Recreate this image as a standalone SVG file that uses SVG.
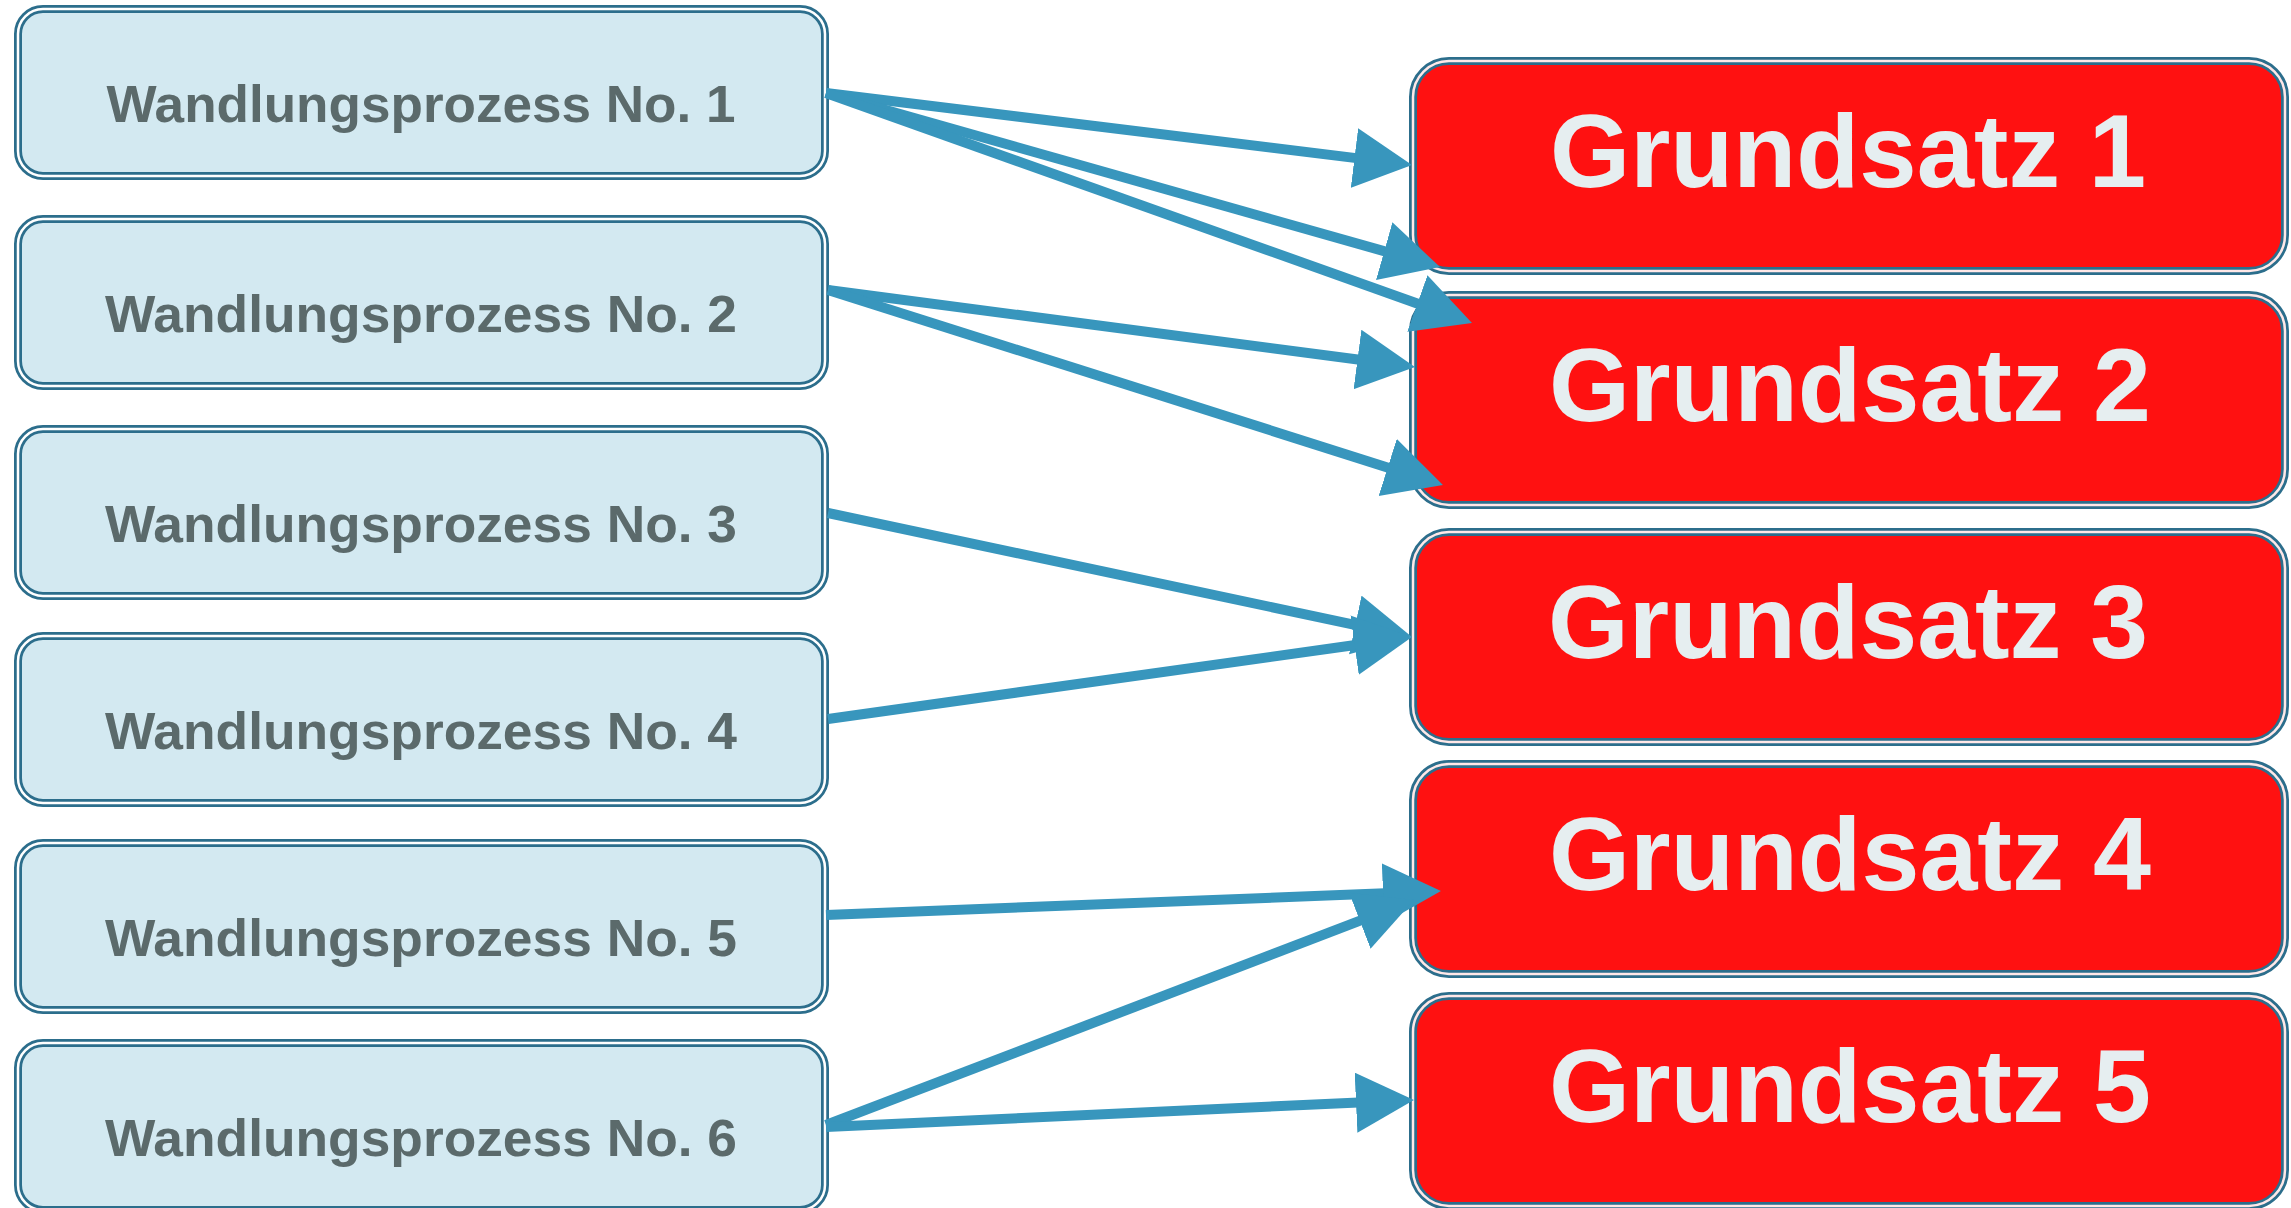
<svg xmlns="http://www.w3.org/2000/svg" width="2291" height="1208" viewBox="0 0 2291 1208">
<style>
.lb{fill:#d3e9f1;stroke:#2c6e8c;stroke-width:8}
.rb{fill:#ff1111;stroke:#2c6e8c;stroke-width:8}
.gap{fill:none;stroke:#ffffff;stroke-width:2.5}
.rgap{fill:none;stroke:#ffe8e8;stroke-width:2.5}
.lt{font-family:"Liberation Sans",Arial,sans-serif;font-weight:bold;font-size:52px;fill:#5b6a6b;text-anchor:middle}
.rt{font-family:"Liberation Sans",Arial,sans-serif;font-weight:bold;font-size:103px;fill:#e6eef0;text-anchor:middle}
.c{stroke:#3896bd;stroke-width:10;fill:none;marker-end:url(#ah)}
</style>
<defs>
<marker id="ah" markerUnits="userSpaceOnUse" markerWidth="60" markerHeight="62" refX="8" refY="30" orient="auto" viewBox="0 0 60 62">
<path d="M0,0 L58,30 L0,60 z" fill="#3896bd"/>
</marker>
</defs>
<rect width="2291" height="1208" fill="#ffffff"/>
<g id="w1"><rect class="lb" x="18" y="9" width="807" height="167" rx="25"/><rect class="gap" x="18" y="9" width="807" height="167" rx="25"/><text class="lt" x="421" y="122" textLength="629" lengthAdjust="spacingAndGlyphs">Wandlungsprozess No. 1</text></g>
<g id="w2"><rect class="lb" x="18" y="219" width="807" height="167" rx="25"/><rect class="gap" x="18" y="219" width="807" height="167" rx="25"/><text class="lt" x="421" y="332" textLength="632" lengthAdjust="spacingAndGlyphs">Wandlungsprozess No. 2</text></g>
<g id="w3"><rect class="lb" x="18" y="429" width="807" height="167" rx="25"/><rect class="gap" x="18" y="429" width="807" height="167" rx="25"/><text class="lt" x="421" y="542" textLength="632" lengthAdjust="spacingAndGlyphs">Wandlungsprozess No. 3</text></g>
<g id="w4"><rect class="lb" x="18" y="636" width="807" height="167" rx="25"/><rect class="gap" x="18" y="636" width="807" height="167" rx="25"/><text class="lt" x="421" y="749" textLength="632" lengthAdjust="spacingAndGlyphs">Wandlungsprozess No. 4</text></g>
<g id="w5"><rect class="lb" x="18" y="843" width="807" height="167" rx="25"/><rect class="gap" x="18" y="843" width="807" height="167" rx="25"/><text class="lt" x="421" y="956" textLength="632" lengthAdjust="spacingAndGlyphs">Wandlungsprozess No. 5</text></g>
<g id="w6"><rect class="lb" x="18" y="1043" width="807" height="167" rx="25"/><rect class="gap" x="18" y="1043" width="807" height="167" rx="25"/><text class="lt" x="421" y="1156" textLength="632" lengthAdjust="spacingAndGlyphs">Wandlungsprozess No. 6</text></g>
<g id="g1"><rect class="rb" x="1413" y="61" width="872" height="210" rx="36"/><rect class="rgap" x="1413" y="61" width="872" height="210" rx="36"/><text class="rt" x="1848" y="187" textLength="596" lengthAdjust="spacingAndGlyphs">Grundsatz 1</text></g>
<g id="g2"><rect class="rb" x="1413" y="295" width="872" height="210" rx="36"/><rect class="rgap" x="1413" y="295" width="872" height="210" rx="36"/><text class="rt" x="1850" y="421" textLength="602" lengthAdjust="spacingAndGlyphs">Grundsatz 2</text></g>
<g id="g3"><rect class="rb" x="1413" y="532" width="872" height="210" rx="36"/><rect class="rgap" x="1413" y="532" width="872" height="210" rx="36"/><text class="rt" x="1848" y="658" textLength="600" lengthAdjust="spacingAndGlyphs">Grundsatz 3</text></g>
<g id="g4"><rect class="rb" x="1413" y="764" width="872" height="210" rx="36"/><rect class="rgap" x="1413" y="764" width="872" height="210" rx="36"/><text class="rt" x="1850" y="890" textLength="602" lengthAdjust="spacingAndGlyphs">Grundsatz 4</text></g>
<g id="g5"><rect class="rb" x="1413" y="996" width="872" height="210" rx="36"/><rect class="rgap" x="1413" y="996" width="872" height="210" rx="36"/><text class="rt" x="1850" y="1122" textLength="602" lengthAdjust="spacingAndGlyphs">Grundsatz 5</text></g>
<g id="connectors">
<line class="c" x1="826" y1="93" x2="1362.4" y2="158.9"/>
<line class="c" x1="826" y1="93" x2="1391.9" y2="253.4"/>
<line class="c" x1="826" y1="93" x2="1424.9" y2="306.2"/>
<line class="c" x1="828" y1="290" x2="1365.4" y2="360.5"/>
<line class="c" x1="828" y1="290" x2="1395.3" y2="469.9"/>
<line class="c" x1="828" y1="513" x2="1363.1" y2="626.6"/>
<line class="c" x1="828" y1="719" x2="1362.5" y2="644.0"/>
<line class="c" x1="826" y1="915" x2="1391.0" y2="893.0"/>
<line class="c" x1="826" y1="1125" x2="1367.3" y2="917.9"/>
<line class="c" x1="826" y1="1127" x2="1364.0" y2="1102.3"/>
</g>
</svg>
